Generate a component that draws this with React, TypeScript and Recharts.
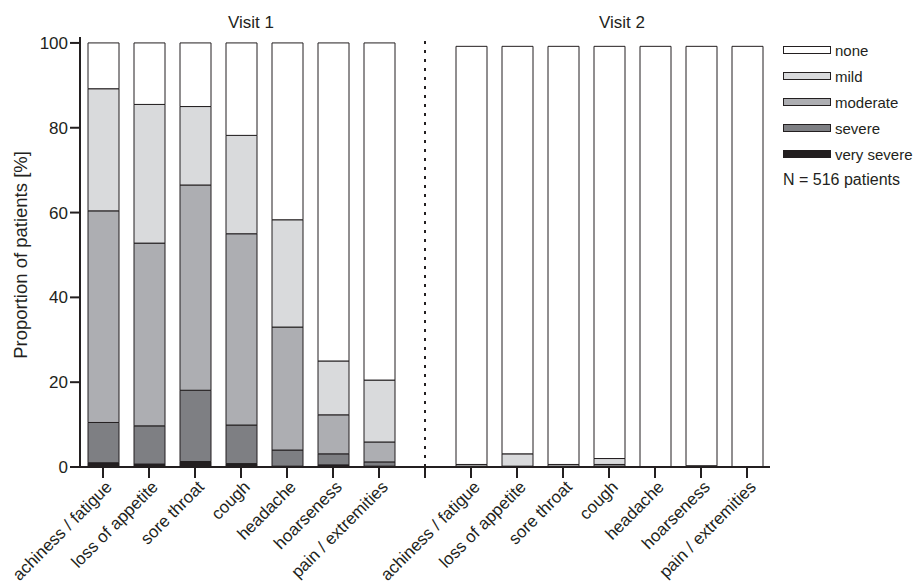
import { Bar, BarChart, ReferenceLine, XAxis, YAxis } from "recharts";

const FONT = '"Liberation Sans", Arial, Helvetica, sans-serif';

const symptoms = [
  "achiness / fatigue",
  "loss of appetite",
  "sore throat",
  "cough",
  "headache",
  "hoarseness",
  "pain / extremities",
];

// Visit 1, percent of patients per severity level
const v1VerySevere = [1.0, 0.7, 1.3, 0.8, 0.2, 0.5, 0.2];
const v1Severe = [9.5, 9.0, 16.8, 9.1, 3.8, 2.6, 1.0];
const v1Moderate = [49.9, 43.1, 48.4, 45.1, 29.0, 9.2, 4.7];
const v1Mild = [28.8, 32.7, 18.5, 23.2, 25.3, 12.7, 14.6];
const v1None = [10.8, 14.5, 15.0, 21.8, 41.7, 75.0, 79.5];

// Visit 2
const v2VerySevere = [0, 0, 0, 0, 0, 0.3, 0];
const v2Severe = [0, 0, 0, 0.2, 0, 0, 0];
const v2Moderate = [0.2, 0.2, 0.2, 0.4, 0, 0, 0];
const v2Mild = [0.4, 2.9, 0.4, 1.4, 0, 0, 0];
const v2None = [98.6, 96.1, 98.6, 97.2, 99.2, 98.9, 99.2];

const yTicks = [0, 20, 40, 60, 80, 100];

const SERIES = [
  { key: "verySevere", name: "very severe", color: "#231f20" },
  { key: "severe", name: "severe", color: "#7e7f83" },
  { key: "moderate", name: "moderate", color: "#adaeb2" },
  { key: "mild", name: "mild", color: "#d9dadc" },
  { key: "none", name: "none", color: "#ffffff" },
];

type Row = { key: string; label: string; [k: string]: string | number | null };

function visitRows(prefix: string, vs: number[], sev: number[], mod: number[], mild: number[], none: number[]): Row[] {
  return symptoms.map((label, i) => ({
    key: `${prefix}-${i}`,
    label,
    verySevere: vs[i],
    severe: sev[i],
    moderate: mod[i],
    mild: mild[i],
    none: none[i],
  }));
}

const rows: Row[] = [
  ...visitRows("v1", v1VerySevere, v1Severe, v1Moderate, v1Mild, v1None),
  { key: "gap", label: "", verySevere: null, severe: null, moderate: null, mild: null, none: null },
  ...visitRows("v2", v2VerySevere, v2Severe, v2Moderate, v2Mild, v2None),
];

function CategoryTick({ x, y, payload }: { x?: number; y?: number; payload?: { value: string } }) {
  const label = rows.find((r) => r.key === payload?.value)?.label;
  if (!label || x == null || y == null) return null;
  const ax = x + 10;
  const ay = y + 8;
  return (
    <text x={ax} y={ay} transform={`rotate(-45 ${ax} ${ay})`} textAnchor="end" fontSize={17} fontFamily={FONT} fill="#231f20">
      {label}
    </text>
  );
}

function YLabel({ viewBox }: { viewBox?: { x: number; y: number; width: number; height: number } }) {
  if (!viewBox) return null;
  const cx = viewBox.x + 20;
  const cy = viewBox.y + viewBox.height / 2 + 3;
  return (
    <text x={cx} y={cy} transform={`rotate(-90 ${cx} ${cy})`} textAnchor="middle" dominantBaseline="central" fontSize={18.5} fontFamily={FONT} fill="#231f20">
      Proportion of patients [%]
    </text>
  );
}

function SeverityLegend() {
  const items = [...SERIES].reverse();
  return (
    <div style={{ position: "absolute", left: 783, top: 37, fontFamily: FONT, color: "#231f20" }}>
      {items.map((s) => (
        <div key={s.key} style={{ display: "flex", alignItems: "center", height: 26 }}>
          <span
            style={{
              display: "inline-block",
              width: 46,
              height: 6,
              background: s.color,
              border: "1px solid #231f20",
              marginRight: 4,
            }}
          />
          <span style={{ fontSize: 15 }}>{s.name}</span>
        </div>
      ))}
      <div style={{ fontSize: 16, marginTop: 4 }}>N = 516 patients</div>
    </div>
  );
}

export default function App() {
  return (
    <div style={{ position: "absolute", left: 0, top: 0, width: 919, height: 587, background: "#fff" }}>
      <div style={{ position: "absolute", left: 251, top: 13, transform: "translateX(-50%)", fontSize: 17, fontFamily: FONT, color: "#231f20" }}>
        Visit 1
      </div>
      <div style={{ position: "absolute", left: 622, top: 13, transform: "translateX(-50%)", fontSize: 17, fontFamily: FONT, color: "#231f20" }}>
        Visit 2
      </div>
      <BarChart
        width={919}
        height={587}
        data={rows}
        margin={{ top: 37, right: 149, bottom: 0, left: 0 }}
        barSize={31}
      >
        <XAxis
          dataKey="key"
          interval={0}
          height={120}
          tick={<CategoryTick />}
          tickSize={11}
          tickMargin={2}
          axisLine={{ stroke: "#231f20", strokeWidth: 2 }}
          tickLine={{ stroke: "#231f20", strokeWidth: 2 }}
        />
        <YAxis
          type="number"
          domain={[0, 101.4]}
          ticks={yTicks}
          width={80}
          tickSize={10}
          tickMargin={2}
          tick={{ fontSize: 17, fontFamily: FONT, fill: "#231f20" }}
          axisLine={{ stroke: "#231f20", strokeWidth: 2 }}
          tickLine={{ stroke: "#231f20", strokeWidth: 2 }}
          label={<YLabel />}
        />
        <ReferenceLine x="gap" stroke="#231f20" strokeWidth={2} strokeDasharray="3 6" />
        {SERIES.map((s) => (
          <Bar
            key={s.key}
            dataKey={s.key}
            name={s.name}
            stackId="a"
            fill={s.color}
            stroke="#231f20"
            strokeWidth={1}
            isAnimationActive={false}
          />
        ))}
      </BarChart>
      <SeverityLegend />
    </div>
  );
}
